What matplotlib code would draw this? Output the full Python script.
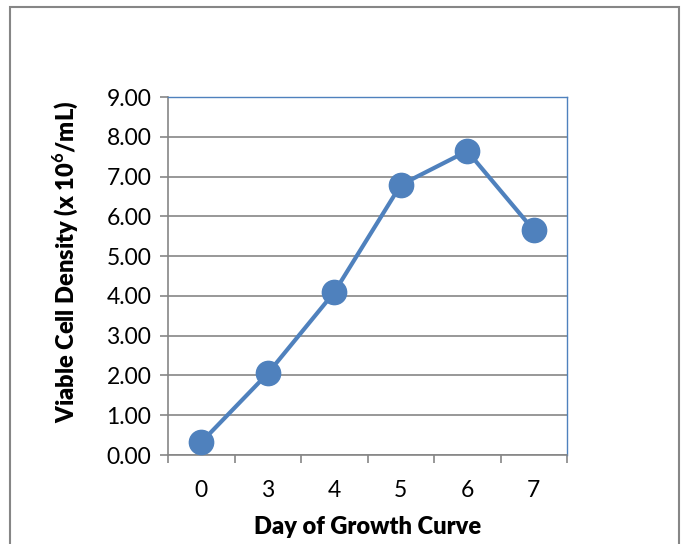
import matplotlib.pyplot as plt
from matplotlib.patches import Rectangle

plt.rcParams["font.family"] = ["Lato", "DejaVu Sans"]
plt.rcParams["mathtext.fontset"] = "custom"
plt.rcParams["mathtext.rm"] = "Lato"
plt.rcParams["mathtext.bf"] = "Lato:bold"

days = ["0", "3", "4", "5", "6", "7"]
density = [0.32, 2.05, 4.09, 6.79, 7.64, 5.65]
y_ticks = [0, 1, 2, 3, 4, 5, 6, 7, 8, 9]

blue = "#4F81BD"
gray = "#868686"

fig = plt.figure(figsize=(6.86, 5.44), dpi=100)
ax = fig.add_axes([168/686, 1 - 455/544, (567-168)/686, (455-97)/544])

x = list(range(len(days)))
ax.plot(x, density, "-o", color=blue, lw=3, markersize=17.5, zorder=3, clip_on=False)

ax.set_xlim(-0.5, len(days) - 0.5)
ax.set_ylim(0, 9)
ax.set_yticks(y_ticks)
ax.set_yticklabels([f"{v:.2f}" for v in y_ticks])
ax.set_xticks(x)
ax.set_xticklabels(days)
ax.set_xticks([i - 0.5 for i in range(len(days) + 1)], minor=True)
ax.tick_params(axis="x", which="major", length=0, pad=18, labelsize=16.5)
ax.tick_params(axis="x", which="minor", length=6, color=gray, width=1.2)
ax.tick_params(axis="y", length=6, color=gray, width=1.2, labelsize=16.5, pad=6)
ax.grid(axis="y", color=gray, lw=1.2)
ax.set_axisbelow(True)

for s in ["left", "bottom"]:
    ax.spines[s].set_color(gray)
    ax.spines[s].set_linewidth(1.2)
for s in ["top", "right"]:
    ax.spines[s].set_color(blue)
    ax.spines[s].set_linewidth(1)

ax.set_xlabel("Day of Growth Curve", fontsize=17, fontweight="heavy")
ax.xaxis.set_label_coords(0.5, -(527 - 455) / 358, transform=ax.transAxes)
ax.xaxis.label.set_va("center")
ax.set_ylabel(r"Viable Cell Density (x 10$^{\mathbf{6}}$/mL)", fontsize=17,
              fontweight="heavy")
ax.yaxis.set_label_coords((65 - 168) / 399, (455 - 262) / 358, transform=ax.transAxes)
ax.yaxis.label.set_va("center")

fig.patches.append(Rectangle((10/686, -0.02), (679-10)/686, 1.02 - 7/544,
                             transform=fig.transFigure, fill=False,
                             edgecolor=gray, lw=1.5))

fig.savefig("out.png", dpi=100)
